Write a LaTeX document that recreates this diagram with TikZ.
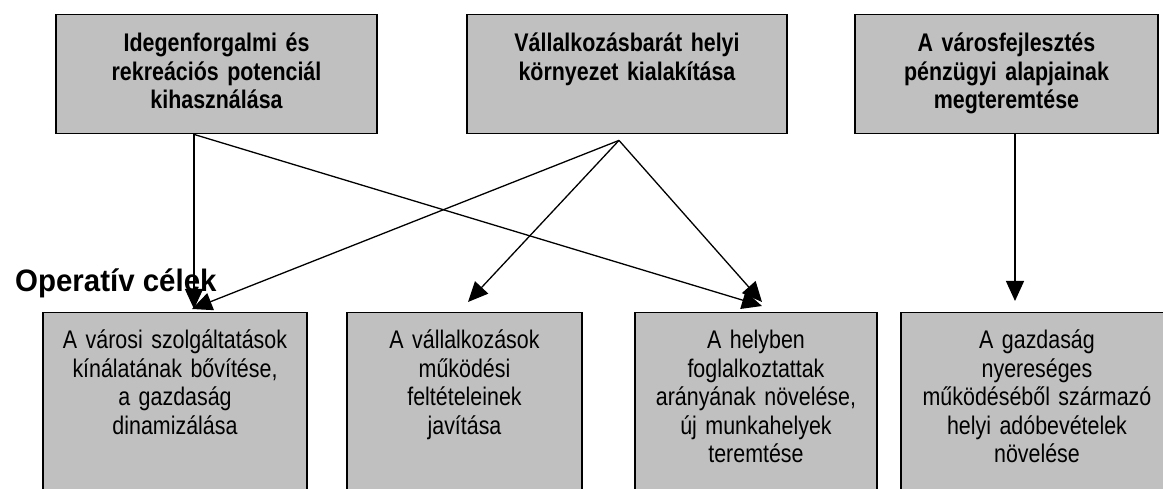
\documentclass[tikz,border=0pt]{standalone}
\usepackage{fontspec}
\setmainfont{Liberation Sans}[FakeStretch=0.84]
\newfontfamily\headfont{Liberation Sans}[FakeStretch=0.95]
\usetikzlibrary{arrows.meta}
\definecolor{boxgray}{HTML}{C0C0C0}
\begin{document}
\begin{tikzpicture}[x=1pt,y=1pt]
\tikzstyle{celbox}=[draw=black, line width=1.4pt, fill=boxgray, anchor=north, inner xsep=4pt, inner ysep=0pt, align=center, font=\fontsize{25.5}{28.5}\selectfont]
\tikzstyle{topbox}=[celbox, font=\bfseries\fontsize{25.5}{28.5}\selectfont, text height=37pt, text depth=82pt]
\tikzstyle{opbox}=[celbox, text height=36pt, text depth=200pt]
\tikzstyle{nyil}=[black, line width=1.3pt, -{Triangle[length=20pt,width=18pt]}]
\useasboundingbox (0,0) rectangle (1163,488);
\clip (0,0) rectangle (1163,488);
\node [topbox, text width=313pt] (ido) at (216.5,474) {Idegenforgalmi és\\rekreációs potenciál\\kihasználása};
\node [topbox, text width=312pt] (vallalk) at (627,474) {Vállalkozásbarát helyi\\környezet kialakítása};
\node [topbox, text width=295pt] (penz) at (1006.5,474) {A városfejlesztés\\pénzügyi alapjainak\\megteremtése};
\node [opbox, text width=256pt] (szolg) at (175,176) {A városi szolgáltatások\\kínálatának bővítése,\\a gazdaság\\dinamizálása};
\node [opbox, text width=227pt] (mukod) at (464.5,176) {A vállalkozások\\működési\\feltételeinek\\javítása};
\node [opbox, text width=234pt] (fogl) at (756,176) {A helyben\\foglalkoztattak\\arányának növelése,\\új munkahelyek\\teremtése};
\node [opbox, text width=264pt] (ado) at (1037,176) {A gazdaság\\nyereséges\\működéséből származó\\helyi adóbevételek\\növelése};
\node [anchor=base west, inner sep=0pt] (opcel) at (15,196) {\headfont\bfseries\fontsize{31}{36}\selectfont Operatív célek};
\coordinate (idoki) at ([xshift=-22.5pt]ido.south);
\coordinate (vkki) at ([shift={(-8,-6)}]vallalk.south);
\coordinate (penzki) at ([xshift=8.5pt]penz.south);
\draw [nyil] (idoki) -- ([shift={(19,3)}]szolg.north);
\draw [nyil] (idoki) -- ([shift={(6,6)}]fogl.north);
\draw [nyil] (vkki) -- ([shift={(17,3)}]szolg.north);
\draw [nyil] (vkki) -- ([shift={(3.5,10)}]mukod.north);
\draw [nyil] (vkki) -- ([shift={(6,10)}]fogl.north);
\draw [nyil, shorten >=11pt] (penzki) -- (penzki |- ado.north);
\end{tikzpicture}
\end{document}
